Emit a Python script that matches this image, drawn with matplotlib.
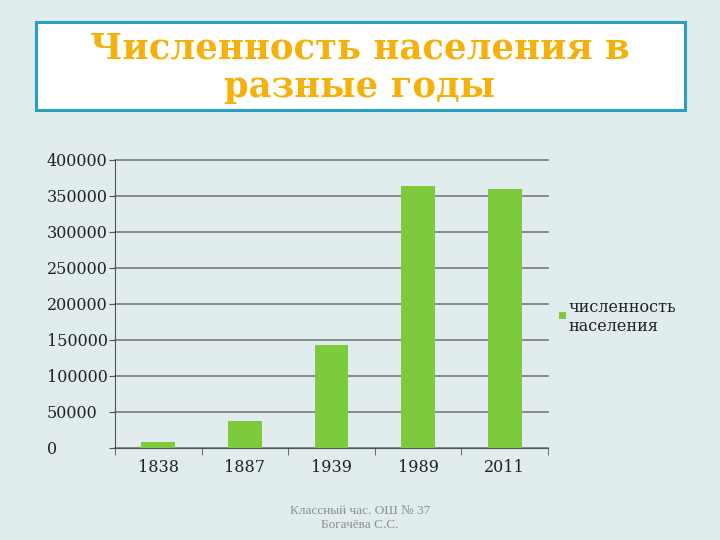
import matplotlib
matplotlib.use("Agg")
import matplotlib.pyplot as plt
from matplotlib.patches import Rectangle
import numpy as np

categories = ["1838", "1887", "1939", "1989", "2011"]
values = [8000, 37000, 143000, 364000, 360000]
yticks = [0, 50000, 100000, 150000, 200000, 250000, 300000, 350000, 400000]
title_text = "Численность населения в\nразные годы"
legend_label = "численность\nнаселения"
footer_text = "Классный час. ОШ № 37\nБогачёва С.С."

BG = "#E0ECEE"
GREEN = "#7DCB3C"
ORANGE = "#F5B10A"
FONT = ["DejaVu Serif"]
LFONT = ["Liberation Serif", "DejaVu Serif"]

fig = plt.figure(figsize=(7.2, 5.4), dpi=100)
fig.patch.set_facecolor(BG)

# title box
fig.patches.append(Rectangle((36/720, 1-110/540), (685-36)/720, (110-22)/540,
                             transform=fig.transFigure, facecolor="white",
                             edgecolor="#2A9FC4", linewidth=2.2, zorder=1))
fig.text(0.5, 1-68/540, title_text, ha="center", va="center", fontsize=25.5,
         fontweight="bold", color=ORANGE, family=FONT, linespacing=1.15)

ax = fig.add_axes([115/720, 1-448/540, 433/720, 288/540])
ax.set_facecolor("none")
x = np.arange(len(categories))
ax.bar(x, values, width=0.39, color=GREEN, zorder=3)
ax.set_xlim(-0.5, len(categories)-0.5)
ax.set_ylim(0, 400000)
ax.set_yticks(yticks)
ax.set_yticklabels([str(v) for v in yticks], family=FONT, fontsize=11.5, color="#222222")
for lbl in ax.get_yticklabels():
    lbl.set_horizontalalignment("left")
ax.tick_params(axis="y", direction="out", length=4, pad=45, color="#555555")
ax.set_xticks(x)
ax.set_xticklabels(categories, family=FONT, fontsize=11.5, color="#222222")
ax.tick_params(axis="x", which="major", length=0, pad=8)
ax.set_xticks(np.arange(-0.5, len(categories)), minor=True)
ax.tick_params(axis="x", which="minor", direction="out", length=5, color="#555555")
ax.yaxis.grid(True, color="#6E7072", linewidth=1.1, zorder=0)
for gl in ax.get_ygridlines():
    gl.set_clip_on(False)
ax.set_axisbelow(True)
for s in ["top", "right"]:
    ax.spines[s].set_visible(False)
ax.spines["left"].set_color("#555555")
ax.spines["bottom"].set_color("#555555")

# legend
fig.patches.append(Rectangle((559/720, 1-319/540), 7/720, 7/540,
                             transform=fig.transFigure, facecolor=GREEN,
                             edgecolor="none"))
fig.text(568/720, 1-317/540, legend_label, ha="left", va="center", fontsize=11.5,
         family=FONT, color="#222222", linespacing=1.15)

fig.text(360/720, 1-518/540, footer_text, ha="center", va="center", fontsize=9.5,
         family=LFONT, color="#8A8F92", linespacing=1.2)

fig.savefig("out.png", dpi=100, facecolor=fig.get_facecolor())
